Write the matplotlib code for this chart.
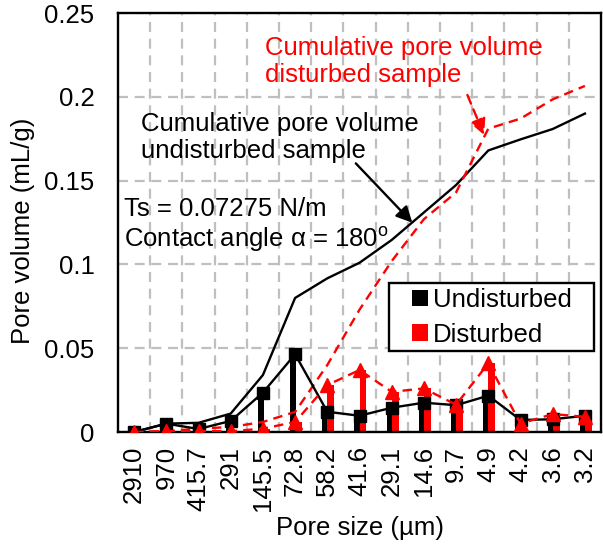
import numpy as np
import matplotlib
matplotlib.use('Agg')
import matplotlib.pyplot as plt
from matplotlib.patches import Patch, Rectangle

plt.rcParams['font.family'] = ['Liberation Sans', 'DejaVu Sans']
plt.rcParams['mathtext.fontset'] = 'custom'
plt.rcParams['mathtext.rm'] = 'Liberation Sans'

# pore size classes (um)
sizes = ['2910', '970', '415.7', '291', '145.5', '72.8', '58.2', '41.6',
         '29.1', '14.6', '9.7', '4.9', '4.2', '3.6', '3.2']

# incremental pore volume (mL/g)
undist_inc = [0.0, 0.005, 0.0018, 0.0066, 0.0235, 0.0464, 0.0121, 0.0097,
              0.0145, 0.0175, 0.016, 0.0217, 0.0072, 0.0076, 0.0097]
dist_inc = [0.0, 0.0005, 0.0005, 0.0005, 0.002, 0.006, 0.028, 0.037,
            0.024, 0.026, 0.0163, 0.041, 0.005, 0.0107, 0.0091]

# cumulative pore volume (mL/g)
undist_cum = [0.0, 0.005, 0.0055, 0.011, 0.034, 0.080, 0.0917, 0.101,
              0.1146, 0.131, 0.1474, 0.168, 0.1746, 0.1808, 0.190]
dist_cum = [0.0, 0.0005, 0.002, 0.003, 0.006, 0.012, 0.040, 0.073,
            0.102, 0.127, 0.143, 0.181, 0.187, 0.1985, 0.2065]

fs = 18.5
x = np.arange(len(sizes))

fig = plt.figure(figsize=(6.03, 5.45), dpi=100)
ax = fig.add_axes([0.1957, 0.2073, 0.8010, 0.7688])

# bars
ax.bar(x - 0.06, undist_inc, width=0.2, color='black', zorder=2)
ax.bar(x + 0.11, dist_inc, width=0.21, color='red', zorder=2)

# cumulative curves
ax.plot(x, undist_cum, color='black', lw=1.7, zorder=3)
ax.plot(x, dist_cum, color='red', lw=1.7, dashes=(4, 2.6), zorder=3)

# incremental curves with markers
ax.plot(x, undist_inc, color='black', lw=1.7, marker='s', ms=8, zorder=4)
ax.plot(x, dist_inc, color='red', lw=1.7, dashes=(4, 2.6), marker='^',
        ms=9.5, zorder=5)

ax.set_xlim(-0.5, len(sizes) - 0.5)
ax.set_ylim(0, 0.25)
ax.set_yticks([0, 0.05, 0.1, 0.15, 0.2, 0.25])
ax.set_yticklabels(['0', '0.05', '0.1', '0.15', '0.2', '0.25'])
ax.set_xticks(x)
ax.set_xticklabels(sizes, rotation=90)
ax.set_xticks(np.arange(0.5, len(sizes) - 1, 1.0), minor=True)
ax.tick_params(axis='both', which='both', length=0, labelsize=fs)
ax.tick_params(axis='x', pad=10)
ax.tick_params(axis='y', pad=17)

ax.grid(axis='y', which='major', color='#bfbfbf', lw=1.6, dashes=(4.5, 3))
ax.grid(axis='x', which='minor', color='#bfbfbf', lw=1.6, dashes=(4.5, 3))
ax.set_axisbelow(True)
for s in ax.spines.values():
    s.set_linewidth(1.7)

ax.set_ylabel('Pore volume (mL/g)', fontsize=fs)
ax.yaxis.set_label_coords(-0.172, 0.48)
ax.set_xlabel('Pore size (\u00b5m)', fontsize=fs, labelpad=4)

# annotations
ax.text(4.06, 0.2211, 'Cumulative pore volume\ndisturbed sample', color='red',
        fontsize=fs, ha='left', va='center', linespacing=1.12)
ax.text(0.21, 0.1757, 'Cumulative pore volume\nundisturbed sample',
        color='black', fontsize=fs, ha='left', va='center', linespacing=1.18)
ax.text(-0.31, 0.1232, 'Ts = 0.07275 N/m\nContact angle \u03b1 = 180$^{\\mathrm{o}}$',
        color='black', fontsize=fs, ha='left', va='center', linespacing=1.18)

ax.annotate('', xy=(8.64, 0.1249), xytext=(6.885, 0.1603),
            arrowprops=dict(arrowstyle='-|>', color='black', lw=1.7,
                            mutation_scale=24, shrinkA=0, shrinkB=0), zorder=6)
ax.annotate('', xy=(10.87, 0.1772), xytext=(10.35, 0.2011),
            arrowprops=dict(arrowstyle='-|>', color='red', lw=1.7,
                            linestyle=(0, (4, 2.6)), mutation_scale=24,
                            shrinkA=0, shrinkB=0), zorder=6)

# legend box
box = Rectangle((0.561, 0.1933), 0.4245, 0.1623, transform=ax.transAxes,
                facecolor='white', edgecolor='black', lw=1.7, zorder=7)
ax.add_patch(box)
handles = [Patch(facecolor='black'), Patch(facecolor='red')]
leg = ax.legend(handles, ['Undisturbed', 'Disturbed'], loc='center left',
                bbox_to_anchor=(0.6087, 0.2733), fontsize=fs, frameon=False,
                handlelength=0.62, handleheight=0.6, handletextpad=0.2,
                borderpad=0, labelspacing=0.4, borderaxespad=0)
leg.set_zorder(8)

fig.savefig('out.png', dpi=100)
